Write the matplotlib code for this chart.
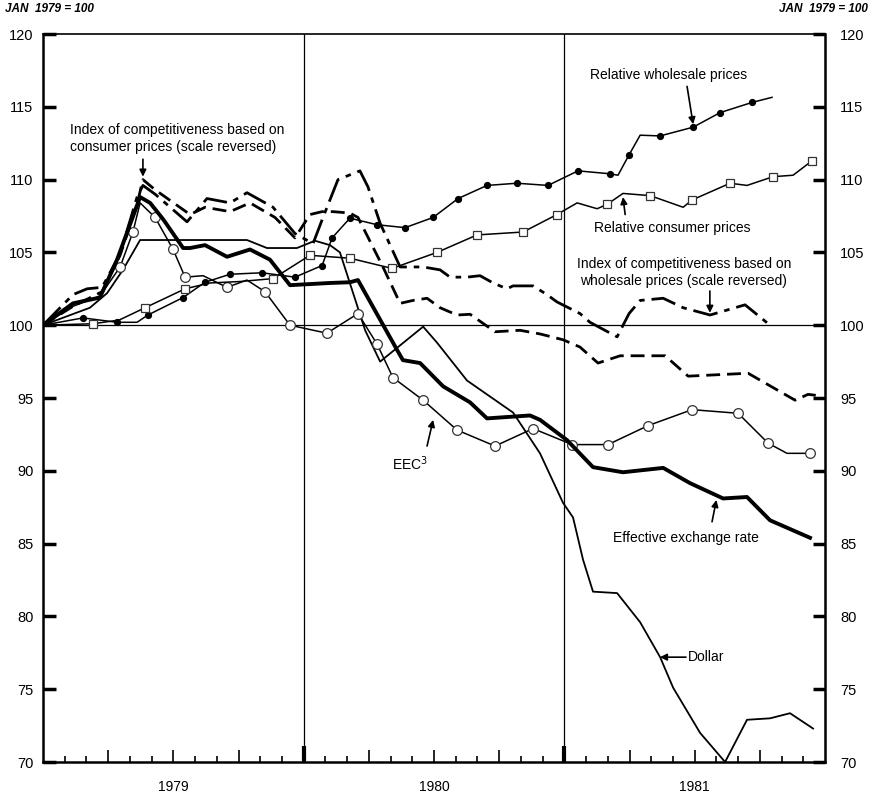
import matplotlib
matplotlib.use('Agg')
import matplotlib.pyplot as plt

plt.rcParams['font.family'] = ['Liberation Sans', 'DejaVu Sans']

# x = months since January 1979, y = index (Jan 1979 = 100)
wholesale_x = [0, 1.84, 3.41, 4.33, 4.83, 6.45, 7.46, 8.61, 10.08, 11.60, 12.85, 13.31, 14.13, 15.38,
               16.67, 17.96, 19.11, 20.44, 21.82, 23.25, 24.63, 26.10, 26.47, 26.98, 27.49, 28.41,
               29.93, 31.17, 32.64, 33.56]
wholesale_y = [100, 100.5, 100.2, 100.2, 100.7, 101.9, 102.95, 103.5, 103.6, 103.3, 104.1, 106.0, 107.35, 106.9,
               106.7, 107.4, 108.7, 109.6, 109.75, 109.6, 110.6, 110.4, 110.3, 111.7, 113.05, 113.0,
               113.6, 114.6, 115.3, 115.65]
wholesale_marks = [1, 2, 4, 5, 6, 7, 8, 9, 10, 11, 12, 13, 14, 15, 16, 17, 18, 19, 20, 21, 23, 25, 26, 27, 28]

consumer_x = [0, 2.30, 3.50, 4.70, 6.54, 7.69, 9.07, 10.59, 12.29, 14.13, 16.07, 18.14, 19.98, 22.10,
              23.66, 24.59, 25.51, 25.97, 26.70, 27.95, 29.47, 29.88, 31.63, 32.41, 33.61, 34.53, 35.41]
consumer_y = [100, 100.1, 100.35, 101.2, 102.5, 102.9, 103.0, 103.2, 104.8, 104.6, 103.9, 105.0, 106.2, 106.4,
              107.6, 108.4, 108.0, 108.3, 109.05, 108.9, 108.1, 108.6, 109.75, 109.6, 110.2, 110.3, 111.3]
consumer_marks = [1, 3, 4, 7, 8, 9, 10, 11, 12, 13, 14, 17, 19, 21, 22, 24, 26]

# index of competitiveness, consumer prices (scale reversed)
comp_cpi_x = [0, 1.38, 2.72, 3.55, 4.33, 4.60, 5.16, 6.77, 7.46, 8.61, 9.53, 10.68, 11.60, 12.29, 12.85,
              13.35, 14.13, 14.50, 15.65, 16.44, 17.03, 17.68, 18.28, 19.06, 19.66, 20.81, 21.96, 22.88,
              23.94, 24.72, 25.55, 26.57, 28.64, 29.70, 32.46, 34.62, 35.22, 35.77]
comp_cpi_y = [100, 101.3, 102.3, 104.8, 108.3, 110.0, 109.3, 107.6, 108.1, 107.8, 108.4, 107.4, 106.0, 107.6, 107.8,
              107.8, 107.7, 107.4, 104.0, 101.5, 101.7, 101.85, 101.2, 100.7, 100.75, 99.55, 99.65, 99.4,
              99.0, 98.5, 97.4, 97.9, 97.9, 96.5, 96.7, 94.85, 95.25, 95.15]

# index of competitiveness, wholesale prices (scale reversed)
comp_wpi_x = [0, 1.38, 2.03, 2.72, 3.55, 4.33, 4.60, 5.16, 6.63, 7.55, 8.61, 9.39, 10.59, 11.60, 12.43,
              12.89, 13.58, 14.59, 14.96, 15.52, 16.44, 17.50, 18.28, 18.74, 19.52, 20.12, 20.72, 21.36,
              21.64, 22.56, 23.20, 23.66, 24.72, 25.18, 26.43, 26.98, 27.49, 28.55, 29.47, 30.71, 32.32, 33.47]
comp_wpi_y = [100, 102.1, 102.5, 102.6, 104.9, 108.8, 109.6, 109.0, 107.1, 108.7, 108.4, 109.1, 108.1, 106.3, 105.6,
              107.4, 110.0, 110.6, 109.5, 107.0, 104.0, 104.0, 103.8, 103.3, 103.3, 103.4, 102.9, 102.5,
              102.7, 102.7, 102.1, 101.6, 100.8, 100.2, 99.2, 100.8, 101.7, 101.85, 101.2, 100.7, 101.4, 100.0]

eer_x = [0, 1.38, 2.62, 3.41, 4.47, 4.93, 5.52, 6.45, 6.77, 7.46, 8.47, 9.53, 10.45, 11.37, 13.21, 14.13,
         14.50, 16.30, 16.57, 17.36, 18.42, 19.66, 20.44, 22.42, 22.88, 24.13, 25.32, 26.70, 28.55, 29.79,
         31.31, 32.41, 33.47, 35.31]
eer_y = [100, 101.5, 101.9, 104.5, 108.8, 108.4, 107.3, 105.3, 105.3, 105.5, 104.7, 105.2, 104.5, 102.75, 102.9, 102.95,
         103.1, 98.3, 97.6, 97.4, 95.8, 94.7, 93.6, 93.8, 93.5, 92.1, 90.25, 89.9, 90.2, 89.15,
         88.1, 88.2, 86.6, 85.4]

eec_x = [0, 1.38, 2.62, 3.55, 4.14, 4.47, 5.16, 5.99, 6.54, 7.37, 8.47, 9.39, 10.22, 11.37, 13.07, 14.50,
         15.38, 16.11, 17.50, 19.06, 20.81, 22.56, 24.36, 26.01, 27.85, 29.88, 32.00, 33.38, 34.25, 35.31]
eec_y = [100, 101.3, 102.0, 104.0, 106.4, 108.4, 107.4, 105.2, 103.3, 103.4, 102.6, 103.1, 102.3, 100.0, 99.45, 100.8,
         98.7, 96.4, 94.85, 92.8, 91.7, 92.9, 91.8, 91.8, 93.1, 94.2, 93.95, 91.9, 91.2, 91.2]
eec_marks = [3, 4, 6, 7, 8, 10, 12, 13, 14, 15, 16, 17, 18, 19, 20, 21, 22, 23, 24, 25, 26, 27, 29]

dollar_x = [0, 2.16, 2.95, 3.68, 4.47, 9.39, 10.31, 11.69, 12.52, 13.21, 13.67, 14.83, 15.52, 17.50, 18.14,
            19.52, 21.64, 22.88, 23.94, 24.40, 24.86, 25.32, 26.43, 27.49, 28.41, 29.01, 30.25, 31.40,
            32.41, 33.47, 34.39, 35.45]
dollar_y = [100, 101.2, 102.2, 103.8, 105.85, 105.85, 105.3, 105.3, 105.8, 105.5, 105.0, 99.65, 97.5, 99.9, 98.8,
            96.2, 94.0, 91.2, 87.8, 86.8, 83.9, 81.7, 81.6, 79.6, 77.2, 75.1, 72.0, 70.0,
            72.9, 73.0, 73.35, 72.3]

years = ['1979', '1980', '1981']
year_edges = [12, 24]

fig = plt.figure(figsize=(8.72, 7.97), dpi=100)
ax = fig.add_axes([43 / 872, 35 / 797, 782 / 872, 728 / 797])

ax.axhline(100, color='black', lw=0.9)
for e in year_edges:
    ax.axvline(e, color='black', lw=0.9)
ax.vlines(year_edges, 70, 71.1, color='black', lw=3)

ax.plot(dollar_x, dollar_y, color='black', lw=1.3)
ax.plot(eec_x, eec_y, color='black', lw=1.1, marker='o', markevery=eec_marks,
        ms=7, mfc='white', mec='#333333', mew=0.9)
ax.plot(wholesale_x, wholesale_y, color='black', lw=1.1, marker='o', markevery=wholesale_marks, ms=4.2)
ax.plot(consumer_x, consumer_y, color='black', lw=1.1, marker='s', markevery=consumer_marks,
        ms=6.3, mfc='white', mec='#333333', mew=0.9)
ax.plot(comp_cpi_x, comp_cpi_y, color='black', lw=2.0, ls=(0, (5, 2.5)))
ax.plot(comp_wpi_x, comp_wpi_y, color='black', lw=2.0, ls=(0, (9, 2.5, 2, 2.5)))
ax.plot(eer_x, eer_y, color='black', lw=2.8, solid_joinstyle='round')

ax.set_xlim(0, 36)
ax.set_ylim(70, 120)

for s in ['left', 'right', 'bottom']:
    ax.spines[s].set_linewidth(1.8)
ax.spines['top'].set_linewidth(1.2)

quarters = [3, 6, 9, 15, 18, 21, 27, 30, 33]
months = [m for m in range(1, 36) if m not in quarters and m not in year_edges]
ax.set_xticks(quarters)
ax.set_xticklabels(['', years[0], '', '', years[1], '', '', years[2], ''])
ax.set_xticks(months, minor=True)
ax.tick_params(axis='x', which='major', direction='in', length=9, width=1.2, pad=13, labelsize=10)
ax.tick_params(axis='x', which='minor', direction='in', length=4.5, width=1.2)

yt = list(range(70, 121, 5))
ax.set_yticks(yt)
ax.tick_params(axis='y', direction='in', length=9, width=2.5, pad=7, labelsize=10.5)
ax2 = ax.twinx()
ax2.set_ylim(70, 120)
ax2.set_yticks(yt)
ax2.tick_params(axis='y', direction='in', length=9, width=2.5, pad=11, labelsize=10.5)
for s in ax2.spines.values():
    s.set_visible(False)

arrow = dict(arrowstyle='-|>', color='black', lw=1.2, mutation_scale=10, shrinkA=0, shrinkB=0)
fs = 10

ax.text(1.24, 112.8, 'Index of competitiveness based on\nconsumer prices (scale reversed)',
        fontsize=fs, ha='left', va='center', linespacing=1.3)
ax.annotate('', xy=(4.6, 110.2), xytext=(4.6, 111.4), arrowprops=arrow)

ax.text(28.78, 117.2, 'Relative wholesale prices', fontsize=fs, ha='center', va='center')
ax.annotate('', xy=(29.93, 113.8), xytext=(29.65, 116.4), arrowprops=arrow)

ax.text(28.96, 106.7, 'Relative consumer prices', fontsize=fs, ha='center', va='center')
ax.annotate('', xy=(26.7, 108.8), xytext=(26.8, 107.6), arrowprops=arrow)

ax.text(29.5, 103.64, 'Index of competitiveness based on\nwholesale prices (scale reversed)',
        fontsize=fs, ha='center', va='center', linespacing=1.3)
ax.annotate('', xy=(30.7, 100.85), xytext=(30.7, 102.35), arrowprops=arrow)

ax.text(16.9, 90.5, 'EEC$^{3}$', fontsize=fs, ha='center', va='center')
ax.annotate('', xy=(17.96, 93.5), xytext=(17.68, 91.7), arrowprops=arrow)

ax.text(29.6, 85.4, 'Effective exchange rate', fontsize=fs, ha='center', va='center')
ax.annotate('', xy=(31.0, 88.0), xytext=(30.8, 86.5), arrowprops=arrow)

ax.text(29.7, 77.2, 'Dollar', fontsize=fs, ha='left', va='center')
ax.annotate('', xy=(28.4, 77.2), xytext=(29.6, 77.2), arrowprops=arrow)

fig.text(5 / 872, 1 - 3 / 797, 'JAN  1979 = 100', fontsize=8.5, fontweight='bold', style='italic',
         ha='left', va='top')
fig.text(868 / 872, 1 - 3 / 797, 'JAN  1979 = 100', fontsize=8.5, fontweight='bold', style='italic',
         ha='right', va='top')

fig.savefig('out.png', dpi=100, facecolor='white')
